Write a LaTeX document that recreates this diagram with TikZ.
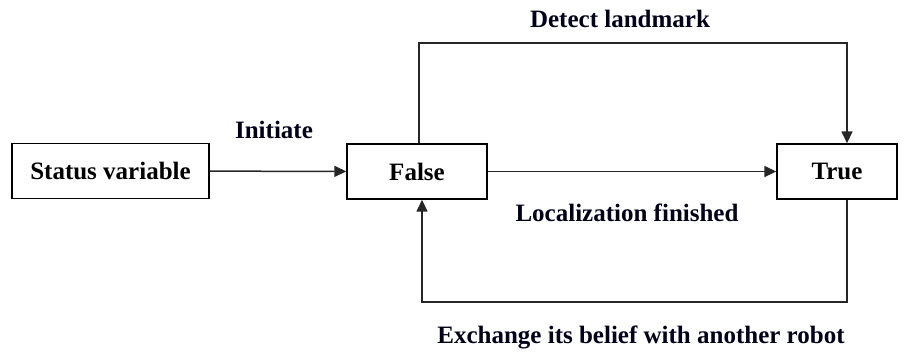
\documentclass[tikz,border=0pt]{standalone}
\usepackage{fontspec}
\setmainfont{Liberation Serif}
\usetikzlibrary{arrows.meta}
\begin{document}
\begin{tikzpicture}[x=1pt,y=-1pt,
  every node/.style={font=\fontsize{25}{30}\selectfont\bfseries},
  statebox/.style={draw, line width=1.4pt, inner sep=0pt, minimum height=55pt},
  link/.style={line width=1.5pt, draw=black!85},
  arr/.style={link, -{Triangle[length=12pt,width=11pt]}},
  lbl/.style={text=black!90!blue}]
\useasboundingbox (0,0) rectangle (905,354);

% state boxes
\node[statebox, minimum width=197pt] (status) at (110.5,171) {Status variable};
\node[statebox, minimum width=140pt] (false) at (417,171.5) {False};
\node[statebox, minimum width=120pt] (true) at (837,171.5) {True};

% corner points of the two loops
\coordinate (tl) at (419,43);
\coordinate (tr) at (847,43);
\coordinate (bl) at (422,302);
\coordinate (br) at (847,302);

% connectors
\draw[arr] (status) -- (false);
\draw[arr] (false) -- (true);
\draw[arr] (tl |- false.north) -- (tl) -- (tr) -- (tr |- true.north);
\draw[arr] (br |- true.south) -- (br) -- (bl) -- (bl |- false.south);

% labels
\node[lbl] (init) at (274,130) {Initiate};
\node[lbl] (detect) at (620,19) {Detect landmark};
\node[lbl] (loc) at (627,213) {Localization finished};
\node[lbl] (exch) at (641,337) {Exchange its belief with another robot};
\end{tikzpicture}
\end{document}
